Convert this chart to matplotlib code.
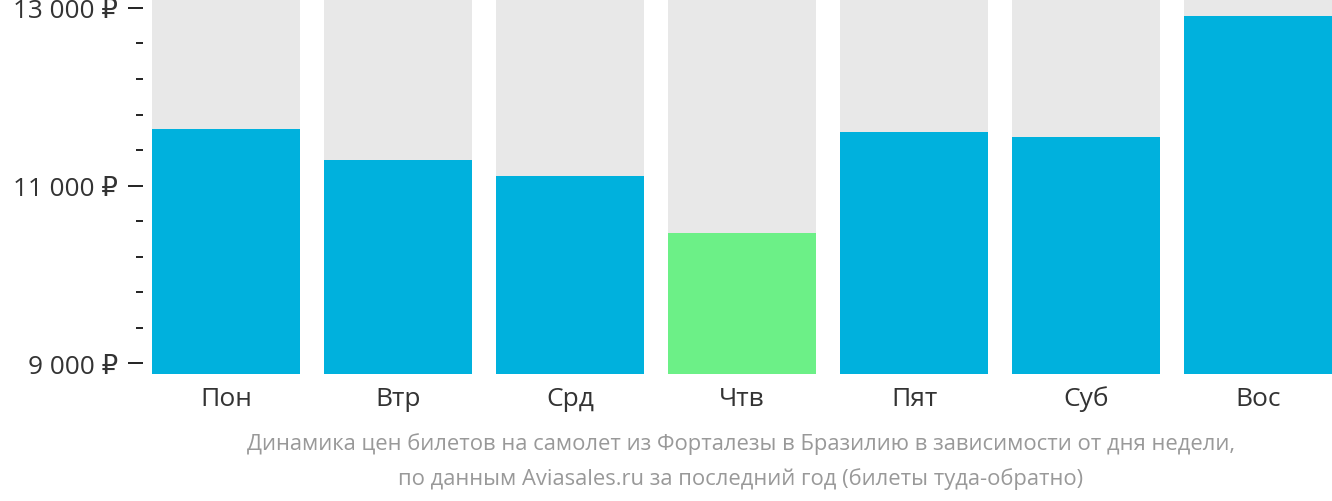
import matplotlib
matplotlib.use("Agg")
import matplotlib.pyplot as plt
from matplotlib.ticker import FixedLocator, FuncFormatter

days = ["Пон", "Втр", "Срд", "Чтв", "Пят", "Суб", "Вос"]
prices = [11635, 11285, 11105, 10463, 11601, 11544, 12907]
cheapest_day = "Чтв"
y_min, y_max = 8882, 13100
major_ticks = [9000, 11000, 13000]
minor_ticks = [9400, 9800, 10200, 10600, 11400, 11800, 12200, 12600]
caption = ("Динамика цен билетов на самолет из Форталезы в Бразилию в зависимости от дня недели,\n"
           "по данным Aviasales.ru за последний год (билеты туда-обратно)")

plt.rcParams['font.family'] = ['Open Sans', 'DejaVu Sans']

fig = plt.figure(figsize=(13.32, 5.02), dpi=100)
W, H = 1332, 502
ax_bottom_px = 374.8
ax = fig.add_axes([143 / W, 1 - ax_bottom_px / H, (W - 143) / W, ax_bottom_px / H])

x = list(range(len(days)))
bar_w = 0.86
ax.bar(x, [y_max - y_min] * len(days), bottom=y_min, width=bar_w, color="#e8e8e8", zorder=1)
colors = ["#6cf087" if d == cheapest_day else "#00b1dd" for d in days]
ax.bar(x, [p - y_min for p in prices], bottom=y_min, width=bar_w, color=colors, zorder=2)

ax.set_ylim(y_min, y_max)
ax.set_xlim(-0.4826, 6.43)
ax.yaxis.set_major_locator(FixedLocator(major_ticks))
ax.yaxis.set_minor_locator(FixedLocator(minor_ticks))
ax.yaxis.set_major_formatter(FuncFormatter(lambda v, p: f"{int(v):,}".replace(",", " ") + " ₽"))
ax.tick_params(axis="y", which="major", length=10.8, width=1.4, pad=7, color="#222222",
               labelsize=18.8, labelcolor="#333333")
ax.tick_params(axis="y", which="minor", length=5, width=1.4, color="#222222")
ax.set_xticks(x)
ax.set_xticklabels(days)
ax.tick_params(axis="x", length=0, pad=8.5, labelsize=19, labelcolor="#333333")
for s in ax.spines.values():
    s.set_visible(False)

fig.text(741 / W, 1 - 461.5 / H, caption, ha="center", va="center", fontsize=15.8,
         color="#999999", linespacing=1.8)

fig.savefig("out.png", dpi=100)
